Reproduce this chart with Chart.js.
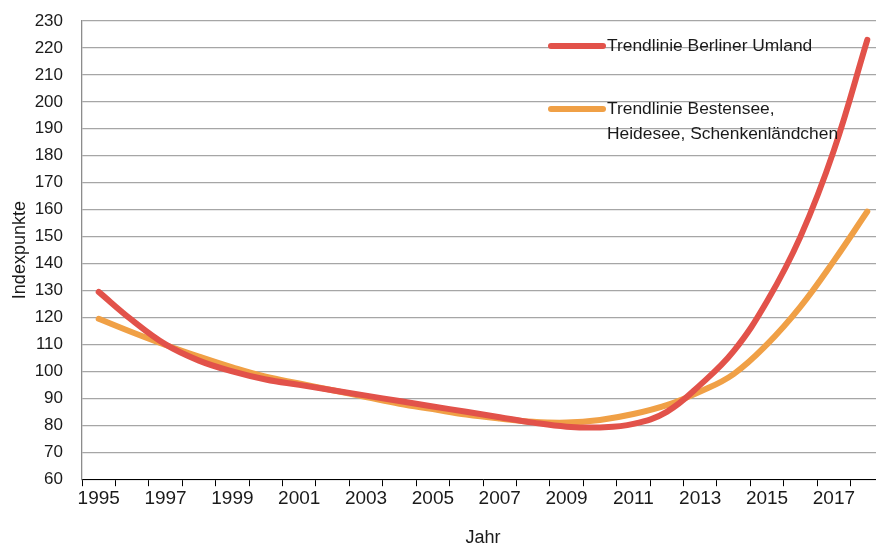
<!DOCTYPE html>
<html>
<head>
<meta charset="utf-8">
<script src="https://cdn.jsdelivr.net/npm/chart.js@4/dist/chart.umd.min.js"></script>
<style>
  html, body { margin: 0; padding: 0; background: #fff; overflow: hidden; }
  #wrap { width: 876px; height: 547px; overflow: hidden; }
  #box { width: 884px; height: 547px; }
</style>
</head>
<body>
<div id="wrap"><div id="box"><canvas id="myChart"></canvas></div></div>
<script>
// years on the x axis (labels shown every second year)
var years = [1995, 1996, 1997, 1998, 1999, 2000, 2001, 2002, 2003, 2004, 2005, 2006,
             2007, 2008, 2009, 2010, 2011, 2012, 2013, 2014, 2015, 2016, 2017, 2018];

// Trendlinie Berliner Umland
var umland = [129.5, 119, 110, 104, 100, 97, 95, 93, 91, 89, 87, 85,
              83, 81, 79.5, 79.2, 80.5, 85, 95, 107.5, 126, 150, 182, 223];

// Trendlinie Bestensee, Heidesee, Schenkenländchen
var bestensee = [119.5, 114.5, 109.8, 105.5, 101.5, 98, 95.5, 93, 90.5, 88, 86, 84,
                 82.5, 81.3, 81, 82, 84.2, 87.5, 92.5, 99, 110, 124, 141, 159.3];

var legendNames = [['Trendlinie Berliner Umland'], ['Trendlinie Bestensee,', 'Heidesee, Schenkenländchen']];
var red = '#e2524a';
var orange = '#f0a046';
var font = "'Liberation Sans', Arial, sans-serif";

// legend drawn inside the plot, top right
var insideLegend = {
  id: 'insideLegend',
  afterDatasetsDraw: function(chart) {
    var ctx = chart.ctx;
    var a = chart.chartArea;
    var x0 = a.left + 469;
    var rows = [a.top + 25, a.top + 88];
    ctx.save();
    chart.data.datasets.forEach(function(ds, i) {
      var y = rows[i];
      ctx.strokeStyle = ds.borderColor;
      ctx.lineWidth = 6;
      ctx.lineCap = 'round';
      ctx.beginPath();
      ctx.moveTo(x0, y);
      ctx.lineTo(x0 + 52, y);
      ctx.stroke();
      ctx.fillStyle = '#1a1a1a';
      ctx.font = '17.4px ' + font;
      ctx.textBaseline = 'middle';
      legendNames[i].forEach(function(line, j) {
        ctx.fillText(line, x0 + 56, y + j * 25);
      });
    });
    ctx.restore();
  }
};

new Chart(document.getElementById('myChart'), {
  type: 'line',
  data: {
    labels: years,
    datasets: [{
      label: legendNames[0].join(' '),
      data: umland,
      borderColor: red,
      borderWidth: 6,
      borderCapStyle: 'round',
      pointRadius: 0,
      tension: 0.4,
      fill: false
    }, {
      label: legendNames[1].join(' '),
      data: bestensee,
      borderColor: orange,
      borderWidth: 6,
      borderCapStyle: 'round',
      pointRadius: 0,
      tension: 0.4,
      fill: false
    }]
  },
  options: {
    responsive: true,
    maintainAspectRatio: false,
    animation: false,
    layout: { padding: { left: 4, right: 0, top: 0, bottom: 0 } },
    plugins: { legend: { display: false }, tooltip: { enabled: false } },
    scales: {
      x: {
        offset: true,
        grid: { offset: true, drawOnChartArea: false, drawTicks: true, tickLength: 7, color: '#000' },
        border: { color: '#000', width: 1 },
        ticks: {
          autoSkip: false,
          maxRotation: 0,
          padding: 1,
          color: '#1a1a1a',
          font: { family: font, size: 19 },
          callback: function(v, i) { return i % 2 === 0 ? years[i] : ''; }
        },
        title: { display: true, text: 'Jahr', color: '#1a1a1a', font: { family: font, size: 18, lineHeight: 1 }, padding: { top: 18, bottom: 0 } }
      },
      y: {
        min: 60,
        max: 230,
        afterFit: function(scale) {
          scale.width = 78;
          scale.paddingTop = 21;
        },
        grid: { color: '#a6a6a6', lineWidth: 1.3, drawTicks: false },
        border: { color: '#8c8c8c', width: 1.3 },
        ticks: {
          stepSize: 10,
          padding: 19,
          color: '#1a1a1a',
          font: { family: font, size: 17 }
        },
        title: { display: true, text: 'Indexpunkte', color: '#1a1a1a', font: { family: font, size: 18 }, padding: { top: 5, bottom: 4 } }
      }
    }
  },
  plugins: [insideLegend]
});
</script>
</body>
</html>
